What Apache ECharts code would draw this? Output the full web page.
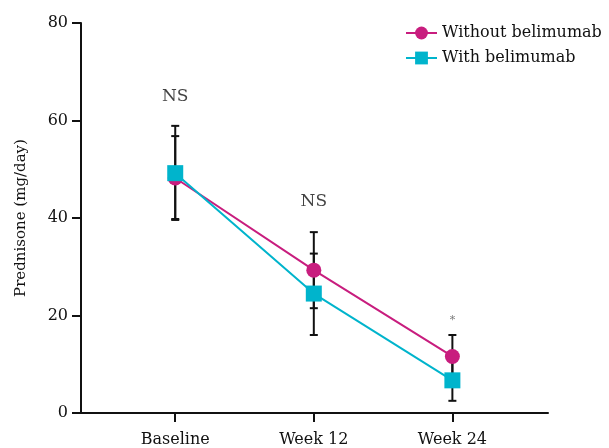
<!DOCTYPE html>
<html>
<head>
<meta charset="utf-8">
<script src="https://cdn.jsdelivr.net/npm/echarts@6/dist/echarts.min.js"></script>
<style>
  html, body { margin: 0; padding: 0; background: #fff; }
  #chart { width: 609px; height: 448px; }
</style>
</head>
<body>
<div id="chart"></div>
<script>
// Time points (x positions are their index)
const categories = ['Baseline', 'Week 12', 'Week 24'];

// Mean prednisone dose (mg/day)
const withoutBelimumab = [48.2, 29.3, 11.6];
const withBelimumab = [49.2, 24.5, 6.7];

// Error ranges [low, high]
const withoutErr = [[39.8, 56.8], [21.5, 37.1], [7.2, 16.0]];
const withErr = [[39.6, 58.9], [16.0, 32.7], [2.5, 10.9]];

// Significance annotations [x index, y value, text]
const annotations = [[0, 65.0, 'NS'], [1, 43.4, 'NS'], [2, 19.0, '*']];

const yTicks = [0, 20, 40, 60, 80];

const MAGENTA = '#c81d7e';
const CYAN = '#00b4cc';
const FONT = 'DejaVu Serif';
const TEXT = '#111';

function toPoints(vals) { return vals.map((v, i) => [i, v]); }

function errorSeries(ranges) {
  return {
    type: 'custom',
    z: 1,
    silent: true,
    data: ranges.map((r, i) => [i, r[0], r[1]]),
    renderItem: function (params, api) {
      const lo = api.coord([api.value(0), api.value(1)]);
      const hi = api.coord([api.value(0), api.value(2)]);
      const w = 4;
      const style = { stroke: '#111', lineWidth: 2 };
      return {
        type: 'group',
        children: [
          { type: 'line', shape: { x1: lo[0], y1: lo[1], x2: hi[0], y2: hi[1] }, style: style },
          { type: 'line', shape: { x1: lo[0] - w, y1: lo[1], x2: lo[0] + w, y2: lo[1] }, style: style },
          { type: 'line', shape: { x1: hi[0] - w, y1: hi[1], x2: hi[0] + w, y2: hi[1] }, style: style }
        ]
      };
    }
  };
}

const chart = echarts.init(document.getElementById('chart'), null, { renderer: 'canvas' });
chart.setOption({
  animation: false,
  backgroundColor: '#fff',
  grid: { left: 81, right: 61, top: 23, bottom: 35 },
  legend: {
    orient: 'vertical',
    left: 405,
    top: 25,
    padding: 0,
    itemWidth: 31,
    itemHeight: 16,
    itemGap: 9,
    textStyle: { fontFamily: FONT, fontSize: 16, color: TEXT },
    data: ['Without belimumab', 'With belimumab']
  },
  xAxis: {
    type: 'value',
    min: -0.68,
    max: 2.69,
    axisLine: { show: true, onZero: false, lineStyle: { color: '#111', width: 2 } },
    axisTick: { show: true, customValues: [0, 1, 2], length: 9, lineStyle: { color: '#111', width: 2 } },
    axisLabel: {
      customValues: [0, 1, 2],
      margin: 19,
      fontFamily: FONT, fontSize: 16, color: TEXT,
      formatter: v => categories[Math.round(v)] || ''
    },
    splitLine: { show: false }
  },
  yAxis: {
    type: 'value',
    min: yTicks[0],
    max: yTicks[yTicks.length - 1],
    interval: 20,
    name: 'Prednisone (mg/day)',
    nameLocation: 'middle',
    nameGap: 52,
    nameTextStyle: { fontFamily: FONT, fontSize: 15, color: TEXT },
    axisLine: { show: true, onZero: false, lineStyle: { color: '#111', width: 2 } },
    axisTick: { show: true, length: 9, lineStyle: { color: '#111', width: 2 } },
    axisLabel: { margin: 13, fontFamily: FONT, fontSize: 16, color: TEXT },
    splitLine: { show: false }
  },
  series: [
    errorSeries(withoutErr),
    errorSeries(withErr),
    {
      name: 'Without belimumab',
      type: 'line',
      z: 3,
      data: toPoints(withoutBelimumab),
      symbol: 'circle',
      symbolSize: 15,
      color: MAGENTA,
      lineStyle: { width: 2, color: MAGENTA },
      itemStyle: { color: MAGENTA }
    },
    {
      name: 'With belimumab',
      type: 'line',
      z: 4,
      data: toPoints(withBelimumab),
      symbol: 'rect',
      symbolSize: 16,
      color: CYAN,
      lineStyle: { width: 2, color: CYAN },
      itemStyle: { color: CYAN }
    },
    {
      type: 'scatter',
      z: 5,
      silent: true,
      symbolSize: 0,
      data: annotations.map(a => ({
        value: [a[0], a[1]],
        name: a[2],
        label: a[2] === '*' ? { fontSize: 11, color: '#555' } : {}
      })),
      label: {
        show: true,
        position: 'inside',
        formatter: p => p.name,
        fontFamily: FONT,
        fontSize: 17,
        color: TEXT,
        textBorderWidth: 0
      }
    }
  ]
});
</script>
</body>
</html>
